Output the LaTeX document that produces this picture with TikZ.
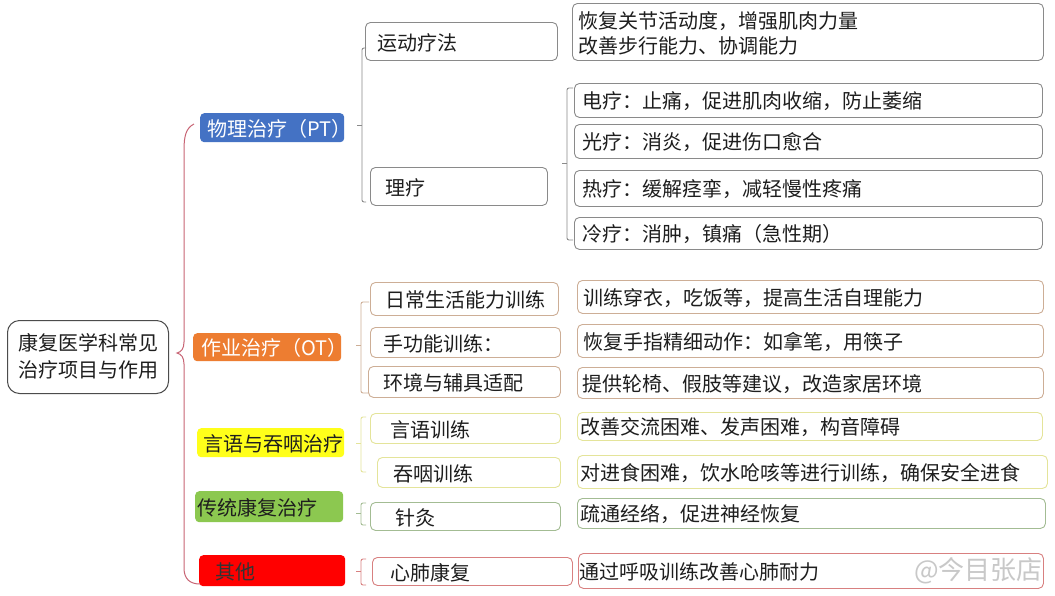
\documentclass[tikz,border=0pt]{standalone}
\usepackage{fontspec}
\setmainfont{Noto Sans CJK SC}
\usetikzlibrary{calc}
\definecolor{txt}{HTML}{1E1E1E}
\definecolor{ptblue}{HTML}{4472C4}
\definecolor{otor}{HTML}{ED7D31}
\definecolor{spy}{HTML}{FFFF1A}
\definecolor{trg}{HTML}{8CC850}
\definecolor{othr}{HTML}{FF0000}
\definecolor{ptb}{HTML}{8A8A8A}
\definecolor{otb}{HTML}{CDAE96}
\definecolor{spb}{HTML}{E4E49A}
\definecolor{trb}{HTML}{A3BC93}
\definecolor{orb}{HTML}{D88080}
\definecolor{bracecol}{HTML}{C86474}
\definecolor{wm}{HTML}{C8C8C8}
\tikzset{
  box/.style={draw,rounded corners=5pt,line width=0.9pt,inner sep=0pt},
  lvlone/.style={rounded corners=4pt,inner sep=0pt},
  lbl/.style={inner sep=0pt,text=txt,font=\fontsize{20}{25}\selectfont,align=left},
  bl/.style={line width=0.9pt,rounded corners=2pt},
}
% name, style, x1, y1, x2, y2, text offset, text
\newcommand\mybox[8]{%
  \node[#2,minimum width={#5pt-#3pt},minimum height={#6pt-#4pt},anchor=north west] (#1) at (#3,#4) {};
  \node[lbl,anchor=west] (#1t) at ([xshift=#7pt,yshift=-1pt]#1.west) {#8};
}
% colour, x, ytop, ybot, ymid, right tick length
\newcommand\mybracket[6]{%
  \draw[bl,#1] (#2+#6,#3) -- (#2,#3) -- (#2,#4) -- (#2+#6,#4);
  \draw[bl,#1] (#2-5,#5) -- (#2,#5);
}
\begin{document}
\begin{tikzpicture}[x=1pt,y=-1pt]
\useasboundingbox[fill=white] (0,0) rectangle (1055,595);

% root
\node[draw=black!70,line width=1pt,rounded corners=12pt,minimum width=161pt,minimum height=73pt,anchor=north west] (root) at (7,320) {};
\node[lbl,align=center,font=\fontsize{20}{27}\selectfont] (roott) at ([yshift=1pt]root.center) {康复医学科常见\\治疗项目与作用};

% main brace
\coordinate (bt) at (194,124);
\coordinate (bb) at (200,584);
\draw[bracecol,line width=1pt] (bt) .. controls (186,128) and (184,136) .. (184,150)
  -- (184,342) .. controls (184,349) and (181,352) .. (177,353)
  .. controls (181,354) and (184,357) .. (184,364)
  -- (184,568) .. controls (184,579) and (190,584) .. (bb);

% level one
\mybox{PT}{lvlone,fill=ptblue}{200}{113}{344}{142}{7}{\textcolor{white}{物理治疗（PT）}}
\mybox{OT}{lvlone,fill=otor}{193}{333}{341}{361}{8}{\textcolor{white}{作业治疗（OT）}}
\mybox{SP}{lvlone,fill=spy}{197}{428}{344}{457}{6}{言语与吞咽治疗}
\mybox{TR}{lvlone,fill=trg}{195}{491}{343}{522}{2}{传统康复治疗}
\mybox{OH}{lvlone,fill=othr}{199}{555}{345}{586}{16}{\textcolor{black!80}{其他}}

% level two
\mybox{yd}{box,draw=ptb}{365}{22}{557}{60}{12}{运动疗法}
\mybox{lt}{box,draw=ptb}{370}{167}{547}{205}{15}{理疗}
\mybox{rc}{box,draw=otb}{370}{282}{558}{315}{15}{日常生活能力训练}
\mybox{sg}{box,draw=otb}{370}{327}{560}{357}{13}{手功能训练：}
\mybox{hj}{box,draw=otb}{368}{366}{560}{397}{15}{环境与辅具适配}
\mybox{yy}{box,draw=spb}{370}{413}{560}{443}{20}{言语训练}
\mybox{ty}{box,draw=spb}{377}{457}{560}{487}{16}{吞咽训练}
\mybox{zj}{box,draw=trb}{370}{502}{560}{530}{25}{针灸}
\mybox{xf}{box,draw=orb}{372}{557}{572}{585}{18}{心肺康复}

% descriptions
\mybox{d0}{box,draw=ptb}{572}{3}{1043}{60}{6}{恢复关节活动度，增强肌肉力量\\改善步行能力、协调能力}
\mybox{d1}{box,draw=ptb}{574}{83}{1042}{117}{8}{电疗：止痛，促进肌肉收缩，防止萎缩}
\mybox{d2}{box,draw=ptb}{574}{124}{1042}{158}{8}{光疗：消炎，促进伤口愈合}
\mybox{d3}{box,draw=ptb}{574}{170}{1042}{206}{8}{热疗：缓解痉挛，减轻慢性疼痛}
\mybox{d4}{box,draw=ptb}{574}{217}{1042}{249}{8}{冷疗：消肿，镇痛（急性期）}
\mybox{d5}{box,draw=otb}{577}{280}{1043}{313}{6}{训练穿衣，吃饭等，提高生活自理能力}
\mybox{d6}{box,draw=otb}{577}{324}{1043}{357}{6}{恢复手指精细动作：如拿笔，用筷子}
\mybox{d7}{box,draw=otb}{577}{367}{1043}{398}{5}{提供轮椅、假肢等建议，改造家居环境}
\mybox{d8}{box,draw=spb}{577}{412}{1042}{440}{3}{改善交流困难、发声困难，构音障碍}
\mybox{d9}{box,draw=spb}{577}{455}{1047}{488}{3}{对进食困难，饮水呛咳等进行训练，确保安全进食}
\mybox{d10}{box,draw=trb}{577}{498}{1045}{528}{3}{疏通经络，促进神经恢复}
\mybox{d11}{box,draw=orb}{578}{553}{1043}{588}{1}{通过呼吸训练改善心肺耐力}

% brackets
\mybracket{ptb}{362}{48}{202}{125}{4}
\mybracket{ptb}{567}{88}{240}{163}{6}
\mybracket{otb}{361}{302}{393}{345}{8}
\mybracket{spb}{361}{417}{472}{443}{5}
\mybracket{trb}{361}{503}{525}{513}{5}
\mybracket{orb}{361}{559}{585}{571}{5}

% watermark
\node[inner sep=0pt,anchor=east,text=wm,font=\fontsize{26}{30}\selectfont] (wmk) at (1043,571) {@今目张店};
\end{tikzpicture}
\end{document}
